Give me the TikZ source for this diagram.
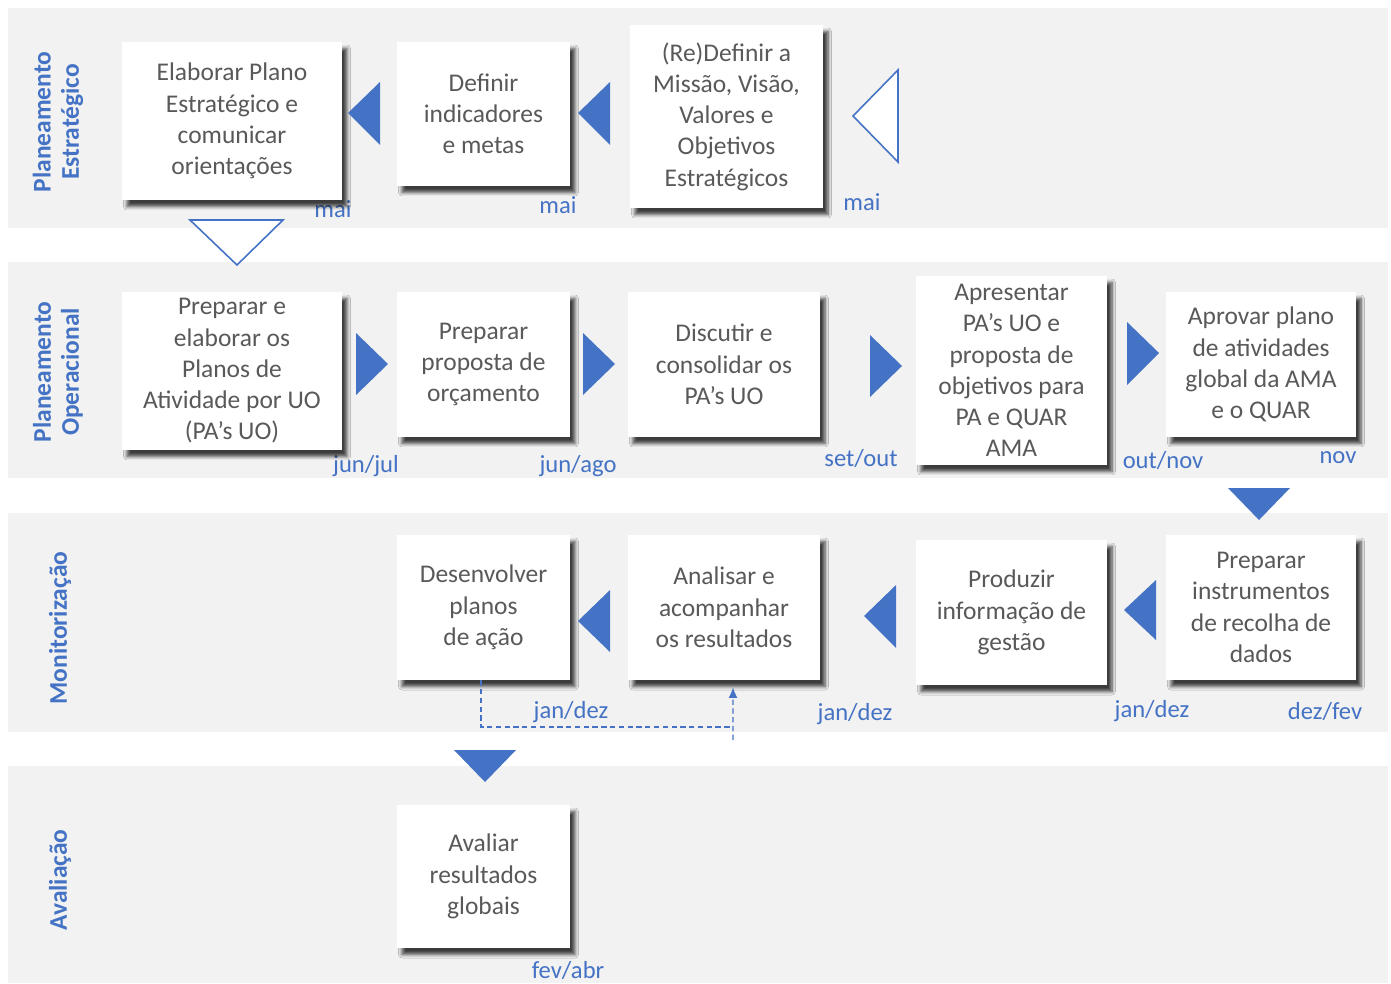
\documentclass[tikz,border=0pt]{standalone}
\usepackage{fontspec}
\setmainfont{Carlito}
\usetikzlibrary{shadows,shadows.blur,arrows.meta}
\definecolor{bandgray}{HTML}{F2F2F2}
\definecolor{mblue}{HTML}{4472C4}
\definecolor{tgray}{HTML}{595959}
\tikzset{
  band/.style={fill=bandgray, draw=none},
  box/.style={rectangle, fill=white, draw=none, align=center, text=tgray,
    font=\fontsize{14.5}{17.8}\selectfont, inner sep=2pt,
    blur shadow={shadow xshift=0.1cm, shadow yshift=-0.13cm, shadow blur radius=0.07cm, shadow blur steps=6, shadow opacity=75}},
  lanelabel/.style={rotate=90, align=center, text=mblue, font=\fontsize{14.5}{16}\selectfont\bfseries},
  datelabel/.style={text=mblue, font=\fontsize{14}{16}\selectfont, inner sep=1pt},
  tri/.style={fill=mblue, draw=none},
  otri/.style={fill=white, draw=mblue, line width=0.9pt, line join=miter},
  loopline/.style={draw=mblue, dash pattern=on 3pt off 2pt, line width=0.7pt}
}
\begin{document}
\begin{tikzpicture}[x=0.02cm, y=-0.02cm]
\useasboundingbox (0,0) rectangle (1391,983);
\fill[white] (0,0) rectangle (1391,983);
% bands
\path[band] (8,8) rectangle (1388,228);
\path[band] (8,262) rectangle (1388,478);
\path[band] (8,513) rectangle (1388,732);
\path[band] (8,766) rectangle (1388,983);
% lane labels
\node[lanelabel] (L1) at (58,122) {Planeamento\\Estratégico};
\node[lanelabel] (L2) at (58,372) {Planeamento\\Operacional};
\node[lanelabel] (L3) at (60,628) {Monitorização};
\node[lanelabel] (L4) at (60,880) {Avaliação};
% date labels (behind boxes)
\node[datelabel] (m1) at (333,209) {mai};
\node[datelabel] (m2) at (558,205) {mai};
\node[datelabel] (m3) at (862,202) {mai};
\node[datelabel] (o1) at (366,466) {jun/jul};
\node[datelabel] (o2) at (578,466) {jun/ago};
\node[datelabel] (o3) at (861,458) {set/out};
\node[datelabel] (o4) at (1163,460) {out/nov};
\node[datelabel] (o5) at (1338,458) {nov};
\node[datelabel] (j1) at (571,712) {jan/dez};
\node[datelabel] (j2) at (855,714) {jan/dez};
\node[datelabel] (j3) at (1152,711) {jan/dez};
\node[datelabel] (j4) at (1325,711) {dez/fev};
\node[datelabel] (f1) at (568,970) {fev/abr};
% boxes row 1
\node[box, minimum width=4.40cm, minimum height=3.16cm] (B1) at (232,121) {Elaborar Plano\\Estratégico e\\comunicar\\orientações};
\node[box, minimum width=3.46cm, minimum height=2.88cm] (B2) at (483.5,114) {Definir\\indicadores\\e metas};
\node[box, minimum width=3.86cm, minimum height=3.66cm] (B3) at (726.5,116.5) {(Re)Definir a\\Missão, Visão,\\Valores e\\Objetivos\\Estratégicos};
% boxes row 2
\node[box, minimum width=4.40cm, minimum height=3.16cm] (C1) at (232,371) {Preparar e\\elaborar os\\Planos de\\Atividade por UO\\(PA’s UO)};
\node[box, minimum width=3.46cm, minimum height=2.90cm] (C2) at (483.5,364.5) {Preparar\\proposta de\\orçamento};
\node[box, minimum width=3.84cm, minimum height=2.90cm] (C3) at (724,364.5) {Discutir e\\consolidar os\\PA’s UO};
\node[box, minimum width=3.82cm, minimum height=3.78cm] (C4) at (1011.5,370.5) {Apresentar\\PA’s UO e\\proposta de\\objetivos para\\PA e QUAR\\AMA};
\node[box, minimum width=3.80cm, minimum height=2.90cm] (C5) at (1261,364.5) {Aprovar plano\\de atividades\\global da AMA\\e o QUAR};
% boxes row 3
\node[box, minimum width=3.46cm, minimum height=2.90cm] (D1) at (483.5,607.5) {Desenvolver\\planos\\de ação};
\node[box, minimum width=3.84cm, minimum height=2.90cm] (D2) at (724,607.5) {Analisar e\\acompanhar\\os resultados};
\node[box, minimum width=3.82cm, minimum height=2.90cm] (D3) at (1011.5,612.5) {Produzir\\informação de\\gestão};
\node[box, minimum width=3.80cm, minimum height=2.90cm] (D4) at (1261,607.5) {Preparar\\instrumentos\\de recolha de\\dados};
% box row 4
\node[box, minimum width=3.46cm, minimum height=2.86cm] (E1) at (483.5,876.5) {Avaliar\\resultados\\globais};
% arrow triangles row 1
\path[tri] (348,113) -- (380,82) -- (380,145) -- cycle;
\path[tri] (578,113) -- (610,82) -- (610,145) -- cycle;
\path[otri] (853,116) -- (898,70) -- (898,162) -- cycle;
\path[otri] (190,220) -- (283,220) -- (237,265) -- cycle;
% row 2
\path[tri] (356,333) -- (356,395) -- (388,364) -- cycle;
\path[tri] (583,333) -- (583,395) -- (615,364) -- cycle;
\path[tri] (870,335) -- (870,397) -- (902,366) -- cycle;
\path[tri] (1127,322) -- (1127,385) -- (1159,353) -- cycle;
\path[tri] (1228,488) -- (1290,488) -- (1259,520) -- cycle;
% row 3
\path[tri] (578,621) -- (610,590) -- (610,652) -- cycle;
\path[tri] (864,616) -- (896,585) -- (896,648) -- cycle;
\path[tri] (1124,610) -- (1156,580) -- (1156,640) -- cycle;
\path[tri] (454,750) -- (516,750) -- (485,782) -- cycle;
% dashed feedback loop
\coordinate (lp) at (733,740);
\draw[loopline] ([xshift=-0.05cm]D1.south) |- (lp |- 0,727);
\draw[loopline, -{Latex[length=6pt,width=5pt]}] (lp) -- ([xshift=0.18cm,yshift=-0.14cm]D2.south);
\end{tikzpicture}
\end{document}
